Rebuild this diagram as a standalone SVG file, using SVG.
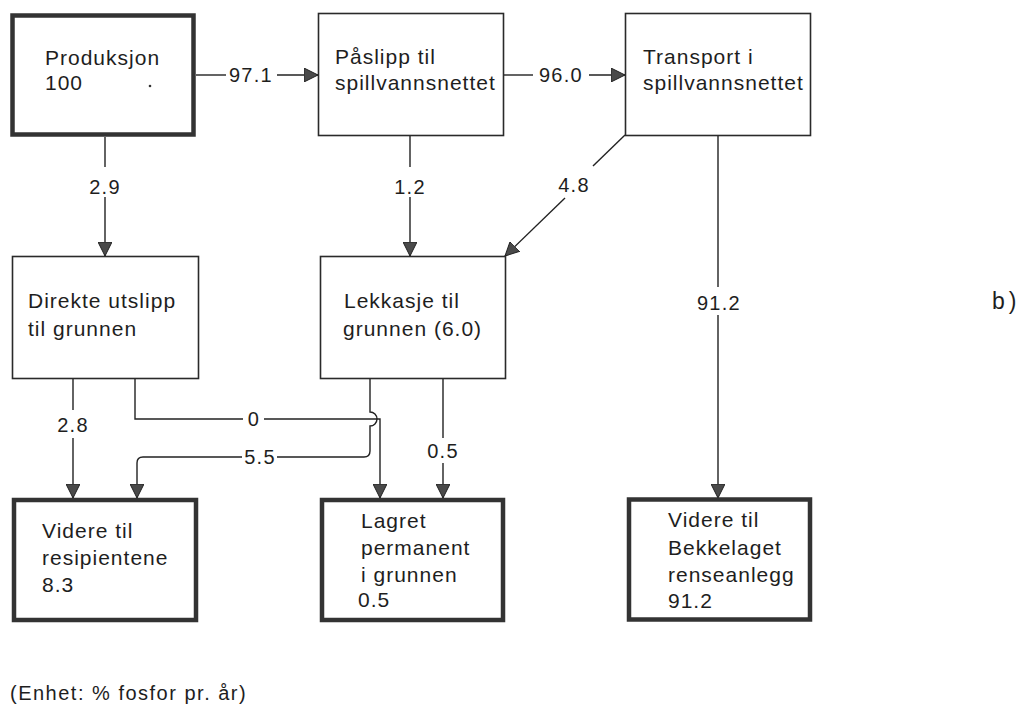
<svg xmlns="http://www.w3.org/2000/svg" width="1026" height="706" viewBox="0 0 1026 706">
<style>
.bg{fill:#ffffff}
.thin{fill:#ffffff;stroke:#2a2a2a;stroke-width:1.6}
.thick{fill:#ffffff;stroke:#333333;stroke-width:4.5}
.t{font-family:"Liberation Sans",Arial,sans-serif;font-size:21px;letter-spacing:1px;fill:#1e1e1e}
.n{font-family:"Liberation Sans",Arial,sans-serif;font-size:20px;letter-spacing:1.3px;fill:#1e1e1e;text-anchor:middle}
.c{fill:none;stroke:#222222;stroke-width:1.4}
</style>
<defs>
<marker id="ah" viewBox="0 0 14 14" refX="14" refY="7" markerWidth="14" markerHeight="14" markerUnits="userSpaceOnUse" orient="auto">
<path d="M0,0 L14,7 L0,14 Z" fill="#4a4a4a" stroke="#222222" stroke-width="1"/>
</marker>
</defs>
<rect class="bg" x="0" y="0" width="1026" height="706"/>

<g id="connectors">
<path class="c" d="M196,75 H226"/>
<path class="c" d="M277,75 H318" marker-end="url(#ah)"/>
<path class="c" d="M503,75 H533"/>
<path class="c" d="M589,75 H625" marker-end="url(#ah)"/>
<path class="c" d="M105,137 V167"/>
<path class="c" d="M105,197 V256" marker-end="url(#ah)"/>
<path class="c" d="M410,135 V167"/>
<path class="c" d="M410,197 V256" marker-end="url(#ah)"/>
<path class="c" d="M625,135 L593,166"/>
<path class="c" d="M565,198 L505,256" marker-end="url(#ah)"/>
<path class="c" d="M718,135 V287"/>
<path class="c" d="M718,315 V498" marker-end="url(#ah)"/>
<path class="c" d="M73,378 V410"/>
<path class="c" d="M73,438 V498" marker-end="url(#ah)"/>
<path class="c" d="M135,378 V419 H243"/>
<path class="c" d="M264,419 H380 V498" marker-end="url(#ah)"/>
<path class="c" d="M370,378 V412 A7,7 0 0 1 370,426 V451 Q370,457 364,457 H277"/>
<path class="c" d="M242,457 H143 Q137,457 137,463 V498" marker-end="url(#ah)"/>
<path class="c" d="M443,378 V438"/>
<path class="c" d="M443,463 V498" marker-end="url(#ah)"/>
<text class="n" x="251" y="82">97.1</text>
<text class="n" x="561" y="82">96.0</text>
<text class="n" x="105" y="194">2.9</text>
<text class="n" x="410" y="194">1.2</text>
<text class="n" x="574" y="192">4.8</text>
<text class="n" x="719" y="310">91.2</text>
<text class="n" x="73" y="432">2.8</text>
<text class="n" x="254" y="426">0</text>
<text class="n" x="260" y="464">5.5</text>
<text class="n" x="443" y="458">0.5</text>
</g>

<g id="produksjon">
<rect class="thick" x="12.5" y="15.5" width="181" height="119"/>
<text class="t" x="45" y="65">Produksjon</text>
<text class="t" x="45" y="90">100</text>
<circle cx="150" cy="86" r="1.3" fill="#333"/>
</g>

<g id="paslipp">
<rect class="thin" x="318.5" y="13.5" width="185" height="122"/>
<text class="t" x="335" y="64">Påslipp til</text>
<text class="t" x="335" y="90">spillvannsnettet</text>
</g>

<g id="transport">
<rect class="thin" x="625.5" y="13.5" width="185" height="122"/>
<text class="t" x="643" y="64">Transport i</text>
<text class="t" x="643" y="90">spillvannsnettet</text>
</g>

<g id="direkte">
<rect class="thin" x="12.5" y="256.5" width="186" height="122"/>
<text class="t" x="28" y="308">Direkte utslipp</text>
<text class="t" x="28" y="336">til grunnen</text>
</g>

<g id="lekkasje">
<rect class="thin" x="320.5" y="256.5" width="185" height="122"/>
<text class="t" x="344" y="308">Lekkasje til</text>
<text class="t" x="343" y="336">grunnen (6.0)</text>
</g>

<g id="resipientene">
<rect class="thick" x="14" y="500" width="182" height="120"/>
<text class="t" x="42" y="538">Videre til</text>
<text class="t" x="42" y="565">resipientene</text>
<text class="t" x="42" y="592">8.3</text>
</g>

<g id="lagret">
<rect class="thick" x="322" y="500" width="181" height="120"/>
<text class="t" x="361" y="528">Lagret</text>
<text class="t" x="361" y="555">permanent</text>
<text class="t" x="361" y="582">i grunnen</text>
<text class="t" x="358" y="607">0.5</text>
</g>

<g id="bekkelaget">
<rect class="thick" x="629" y="499.5" width="181" height="120"/>
<text class="t" x="668" y="527">Videre til</text>
<text class="t" x="668" y="555">Bekkelaget</text>
<text class="t" x="668" y="582">renseanlegg</text>
<text class="t" x="668" y="608">91.2</text>
</g>

<text x="992" y="309" style="font-family:'Liberation Sans',Arial,sans-serif;font-size:23px;letter-spacing:4px;fill:#1e1e1e">b)</text>
<text x="10" y="700" style="font-family:'Liberation Sans',Arial,sans-serif;font-size:20px;letter-spacing:1.5px;fill:#1e1e1e">(Enhet: % fosfor pr. år)</text>
</svg>
